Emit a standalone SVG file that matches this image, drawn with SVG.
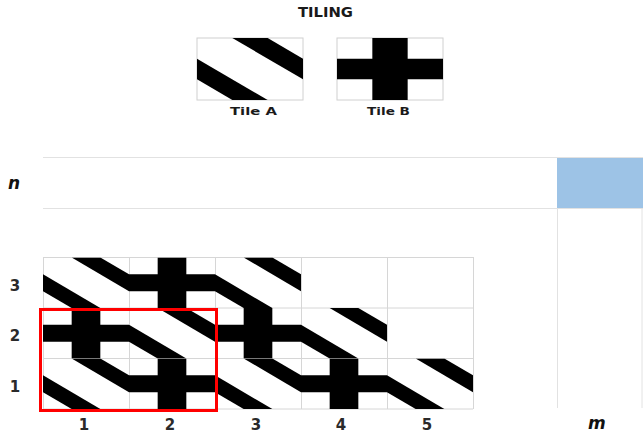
<svg xmlns="http://www.w3.org/2000/svg" xmlns:xlink="http://www.w3.org/1999/xlink" width="643" height="434" viewBox="0 0 643 434">
  <style>
    .grid { stroke: #d6d6d6; stroke-width: 1; fill: none; }
    .band { stroke: #e2e2e2; stroke-width: 1; fill: none; }
    .box { stroke: #d0d0d0; stroke-width: 1; fill: #ffffff; }
    .lbl { font-family: "DejaVu Sans", "Liberation Sans", sans-serif; font-weight: bold; fill: #1a1a1a; }
    .num { font-family: "DejaVu Sans", "Liberation Sans", sans-serif; font-weight: bold; font-size: 15px; fill: #2a2a2a; text-anchor: middle; }
    .var { font-family: "DejaVu Sans", "Liberation Sans", sans-serif; font-weight: bold; font-style: italic; font-size: 17px; fill: #111111; }
  </style>
  <defs>
    <symbol id="tileA" viewBox="0 0 3 3" preserveAspectRatio="none">
      <polygon points="1,0 2,0 3,1 3,2" fill="#000"/>
      <polygon points="0,1 2,3 1,3 0,2" fill="#000"/>
    </symbol>
    <symbol id="tileB" viewBox="0 0 3 3" preserveAspectRatio="none">
      <path d="M1,0 H2 V1 H3 V2 H2 V3 H1 V2 H0 V1 H1 Z" fill="#000"/>
    </symbol>
  </defs>
  <rect width="643" height="434" fill="#ffffff"/>

  <g id="title">
    <text class="lbl" x="298" y="17" font-size="14" textLength="55" lengthAdjust="spacingAndGlyphs">TILING</text>
  </g>

  <g id="legend-tile-a">
    <rect class="box" x="197" y="38" width="106" height="62"/>
    <use xlink:href="#tileA" href="#tileA" x="197" y="38" width="106" height="62"/>
    <text class="lbl" x="230" y="115" font-size="11" textLength="47" lengthAdjust="spacingAndGlyphs">Tile A</text>
  </g>
  <g id="legend-tile-b">
    <rect class="box" x="337" y="38" width="106" height="62"/>
    <use xlink:href="#tileB" href="#tileB" x="337" y="38" width="106" height="62"/>
    <text class="lbl" x="367" y="115" font-size="11" textLength="43" lengthAdjust="spacingAndGlyphs">Tile B</text>
  </g>

  <g id="n-row">
    <rect x="557" y="157" width="86" height="51" fill="#9dc3e6"/>
    <line class="band" x1="43" y1="157.5" x2="643" y2="157.5"/>
    <line class="band" x1="43" y1="208.5" x2="643" y2="208.5"/>
    <line class="band" x1="557.5" y1="208" x2="557.5" y2="408"/>
    <line class="band" x1="642" y1="208" x2="642" y2="408"/>
    <text class="var" x="8" y="189">n</text>
  </g>

  <g id="grid-lines">
    <line class="grid" x1="43" y1="257.5" x2="473" y2="257.5"/>
    <line class="grid" x1="43" y1="308" x2="473" y2="308"/>
    <line class="grid" x1="43" y1="358.5" x2="473" y2="358.5"/>
    <line class="grid" x1="43" y1="409" x2="473" y2="409"/>
    <line class="grid" x1="43.5" y1="257" x2="43.5" y2="409"/>
    <line class="grid" x1="129.5" y1="257" x2="129.5" y2="409"/>
    <line class="grid" x1="215.5" y1="257" x2="215.5" y2="409"/>
    <line class="grid" x1="301.5" y1="257" x2="301.5" y2="409"/>
    <line class="grid" x1="387.5" y1="257" x2="387.5" y2="409"/>
    <line class="grid" x1="473.5" y1="257" x2="473.5" y2="409"/>
  </g>

  <g id="tiles">
    <use xlink:href="#tileA" href="#tileA" x="43" y="257.5" width="86" height="50.5"/>
    <use xlink:href="#tileB" href="#tileB" x="129" y="257.5" width="86" height="50.5"/>
    <use xlink:href="#tileA" href="#tileA" x="215" y="257.5" width="86" height="50.5"/>

    <use xlink:href="#tileB" href="#tileB" x="43" y="308" width="86" height="50.5"/>
    <use xlink:href="#tileA" href="#tileA" x="129" y="308" width="86" height="50.5"/>
    <use xlink:href="#tileB" href="#tileB" x="215" y="308" width="86" height="50.5"/>
    <use xlink:href="#tileA" href="#tileA" x="301" y="308" width="86" height="50.5"/>

    <use xlink:href="#tileA" href="#tileA" x="43" y="358.5" width="86" height="50.5"/>
    <use xlink:href="#tileB" href="#tileB" x="129" y="358.5" width="86" height="50.5"/>
    <use xlink:href="#tileA" href="#tileA" x="215" y="358.5" width="86" height="50.5"/>
    <use xlink:href="#tileB" href="#tileB" x="301" y="358.5" width="86" height="50.5"/>
    <use xlink:href="#tileA" href="#tileA" x="387" y="358.5" width="86" height="50.5"/>
  </g>

  <g id="red-frame">
    <rect x="40.5" y="309.5" width="176" height="101" fill="none" stroke="#ff0000" stroke-width="3"/>
  </g>

  <g id="row-labels">
    <text class="num" x="15" y="291">3</text>
    <text class="num" x="15" y="341">2</text>
    <text class="num" x="15" y="392">1</text>
  </g>
  <g id="col-labels">
    <text class="num" x="84" y="430">1</text>
    <text class="num" x="170" y="430">2</text>
    <text class="num" x="256" y="430">3</text>
    <text class="num" x="341" y="430">4</text>
    <text class="num" x="427" y="430">5</text>
    <text class="var" x="588" y="429">m</text>
  </g>

  <g id="connectors"/>
</svg>
